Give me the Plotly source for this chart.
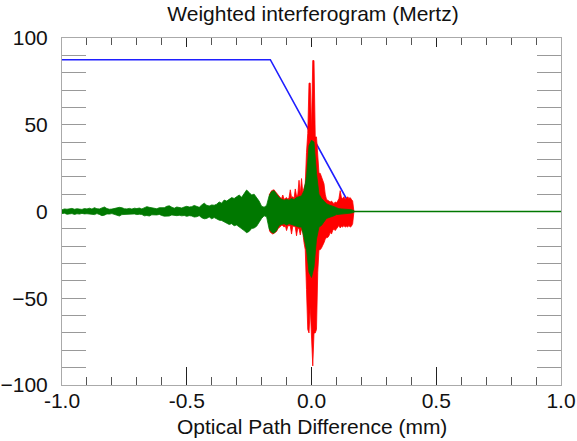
import plotly.graph_objects as go

# Mertz weighting ramp (blue)
weight_opd = [-1.0, -0.165, 0.168]
weight_val = [87.5, 87.5, 0.0]

# Weighted interferogram (green): upper / lower envelope, 0.01 mm grid from -1.0 mm
weighted_start = -1.0
weighted_step = 0.01
weighted_upper = [
    1.0, 1.5, 1.3, 1.6, 1.8, 1.3, 1.6, 1.4, 1.2, 1.7,
    1.5, 1.9, 1.4, 2.2, 1.6, 1.5, 2.1, 2.6, 1.7, 1.3,
    1.4, 1.7, 1.9, 2.4, 2.2, 1.6, 1.5, 1.8, 1.4, 1.9,
    1.7, 2.0, 1.5, 2.3, 2.8, 2.4, 2.2, 1.7, 1.6, 2.2,
    2.0, 2.2, 3.0, 3.3, 2.5, 1.9, 2.6, 2.2, 2.0, 2.6,
    3.0, 2.6, 2.8, 3.5, 2.8, 2.4, 3.8, 4.8, 3.6, 3.2,
    3.8, 3.6, 4.2, 5.5, 4.8, 6.6, 6.0, 7.2, 8.0, 7.5,
    8.5, 9.5, 8.2, 10.5, 12.4, 11.0, 9.5, 10.0, 8.0, 6.0,
    3.0, 2.5, 3.5, 9.0, 11.5, 12.0, 10.0, 8.0, 7.0, 6.5,
    7.0, 6.5, 7.5, 6.8, 8.0, 8.5, 9.0, 12.0, 20.0, 38.0,
    41.0, 40.0, 22.0, 10.0, 7.5, 6.0, 4.5, 3.8, 3.5, 2.8,
    2.2, 1.6, 1.5, 1.4, 1.3, 1.2, 1.0, 0.5,
]
weighted_lower = [
    -1.2, -1.0, -1.6, -1.4, -1.2, -1.7, -1.3, -1.5, -1.1, -1.4,
    -1.3, -1.6, -1.5, -1.8, -1.2, -1.7, -2.4, -2.1, -1.4, -1.5,
    -1.2, -1.5, -2.0, -2.6, -1.8, -1.4, -1.3, -1.6, -1.5, -1.4,
    -1.8, -1.6, -1.7, -2.5, -2.3, -2.6, -1.9, -1.8, -2.0, -1.7,
    -2.3, -2.7, -2.8, -2.6, -2.0, -2.2, -2.4, -2.2, -2.5, -2.3,
    -2.8, -2.4, -2.6, -3.2, -3.0, -2.4, -3.6, -4.2, -4.0, -3.1,
    -4.2, -3.5, -4.4, -5.0, -5.2, -6.2, -6.8, -7.5, -7.0, -8.2,
    -7.8, -9.0, -10.0, -11.0, -12.2, -11.5, -9.8, -9.5, -8.5, -6.0,
    -4.0, -2.5, -3.0, -10.0, -12.0, -12.5, -11.0, -8.0, -7.5, -7.0,
    -7.8, -7.0, -7.5, -8.0, -8.5, -9.0, -9.0, -15.0, -22.0, -35.0,
    -38.0, -32.0, -16.0, -9.0, -8.0, -6.0, -4.0, -3.5, -3.2, -2.5,
    -1.8, -1.6, -1.5, -1.3, -1.2, -1.1, -0.9, -0.5,
]

# Zero padding beyond the measured range
pad_opd = [0.17, 1.0]
pad_val = [0.0, 0.0]

# Raw interferogram (red): upper / lower envelope, 0.005 mm grid from -0.17 mm
raw_start = -0.17
raw_step = 0.005
raw_upper = [
    9.5, 11.0, 12.0, 12.3, 12.5, 11.5, 10.5, 9.5, 8.5, 8.0,
    7.5, 9.5, 7.0, 7.5, 8.0, 7.0, 8.0, 12.5, 8.0, 8.5,
    7.5, 13.0, 9.0, 9.5, 18.0, 10.0, 19.0, 11.0,
    14.0, 16.0, 34.0, 45.0, 74.0, 74.0, 47.0, 87.0, 87.0, 43.0, 43.0, 28.0, 22.0,
    22.0, 20.0, 18.0, 16.0, 10.0, 7.0,
    6.5, 6.0, 5.5, 6.0, 5.0, 4.5, 5.5, 5.0,
    6.0, 7.5, 12.0, 8.0, 7.5, 8.5, 7.0, 8.0, 8.5, 7.5, 8.0, 7.0, 6.0, 0.0,
]
raw_lower = [
    -10.5, -12.0, -12.5, -13.0, -12.8, -12.0, -11.5, -10.0, -9.0, -8.5,
    -8.0, -8.0, -9.0, -8.0, -11.0, -8.5, -8.0, -8.5, -13.0, -8.5,
    -8.5, -9.0, -14.0, -9.5, -10.0, -13.5, -10.0, -12.0,
    -18.0, -22.0, -45.0, -68.0, -70.0, -55.0, -75.0, -89.0, -70.0, -70.0, -68.0, -35.0, -22.0,
    -22.0, -21.0, -20.0, -18.0, -16.0, -15.0,
    -15.0, -14.0, -12.0, -13.0, -11.0, -10.0, -11.0, -10.0,
    -9.0, -8.0, -9.5, -8.5, -9.0, -8.0, -9.0, -8.5, -9.0, -8.0, -9.0, -8.5, -7.0, 0.0,
]


def envelope(start, step, upper, lower):
    xs = [start + step * i for i in range(len(upper))]
    return xs + xs[::-1], list(upper) + list(lower)[::-1]


FONT = "Liberation Sans, Arial, sans-serif"
GREEN = "#007800"
RED = "#ff0000"

fig = go.Figure()
fig.add_trace(go.Scatter(x=weight_opd, y=weight_val, mode="lines",
                         line=dict(color="#1f1fff", width=1.6), name="weight"))

rx, ry = envelope(raw_start, raw_step, raw_upper, raw_lower)
fig.add_trace(go.Scatter(x=rx, y=ry, mode="lines", fill="toself", fillcolor=RED,
                         line=dict(color=RED, width=0.8), name="interferogram"))

gx, gy = envelope(weighted_start, weighted_step, weighted_upper, weighted_lower)
fig.add_trace(go.Scatter(x=gx, y=gy, mode="lines", fill="toself", fillcolor=GREEN,
                         line=dict(color=GREEN, width=0.8), name="weighted"))
fig.add_trace(go.Scatter(x=pad_opd, y=pad_val, mode="lines",
                         line=dict(color=GREEN, width=1.5), name="padding"))
# empty trace so the top tick axis is laid out
fig.add_trace(go.Scatter(x=[], y=[], xaxis="x2", showlegend=False))

fig.update_layout(
    width=577, height=441,
    margin=dict(l=62, r=16, t=38, b=56, autoexpand=False),
    paper_bgcolor="white", plot_bgcolor="white",
    showlegend=False,
    font=dict(family=FONT, size=21, color="#111"),
    title=dict(text="Weighted interferogram (Mertz)", xref="paper", x=0.503,
               xanchor="center", yref="container", y=0.968, yanchor="middle",
               font=dict(family=FONT, size=21, color="#111")),
    xaxis=dict(
        range=[-1, 1], tickvals=[-1, -0.5, 0, 0.5, 1],
        ticktext=["-1.0", "-0.5", "0.0", "0.5", "1.0"],
        ticks="inside", ticklen=18, tickcolor="#222", tickwidth=1,
        minor=dict(dtick=0.1, ticks="inside", ticklen=8, tickcolor="#555", tickwidth=1),
        showline=True, linecolor="#aaaaaa", linewidth=1, mirror=True,
        showgrid=False, zeroline=False, automargin=False,
        tickfont=dict(size=21), ticklabelstandoff=-3,
    ),
    xaxis2=dict(
        overlaying="x", side="top", anchor="y", range=[-1, 1],
        tickvals=[-1, -0.5, 0, 0.5, 1], showticklabels=False,
        ticks="inside", ticklen=9, tickcolor="#222", tickwidth=1,
        minor=dict(dtick=0.1, ticks="inside", ticklen=7, tickcolor="#555", tickwidth=1),
        showline=False, showgrid=False, zeroline=False, automargin=False,
    ),
    yaxis=dict(
        range=[-100, 100], tickvals=[-100, -50, 0, 50, 100],
        ticks="inside", ticklen=24, tickcolor="#999", tickwidth=1,
        minor=dict(dtick=10, ticks="inside", ticklen=12, tickcolor="#999", tickwidth=1),
        showline=True, linecolor="#aaaaaa", linewidth=1, mirror="allticks",
        showgrid=False, zeroline=False, automargin=False, layer="below traces",
        tickfont=dict(size=21), ticklabelstandoff=9,
    ),
    annotations=[dict(
        text="Optical Path Difference (mm)", xref="paper", yref="paper",
        x=0.5, y=-0.121, xanchor="center", yanchor="middle", showarrow=False,
        font=dict(family=FONT, size=21, color="#111"),
    )],
)

fig.write_html("out.html")
